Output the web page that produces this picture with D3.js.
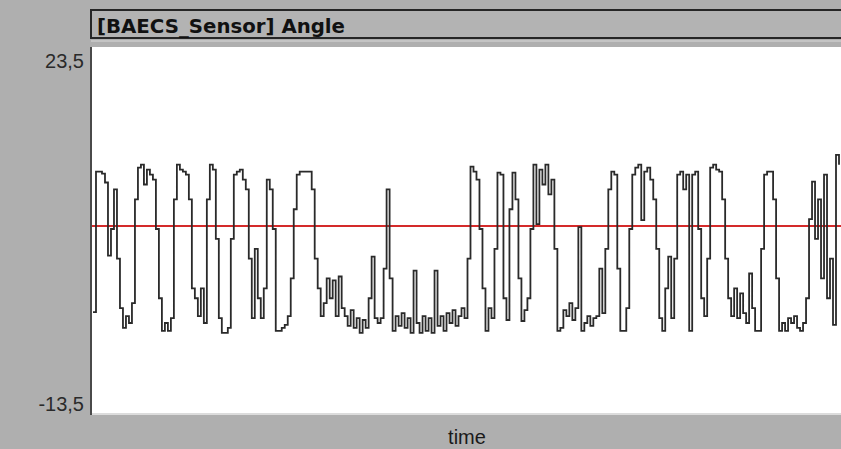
<!DOCTYPE html>
<html>
<head>
    <meta charset="utf-8">
    <title>[BAECS_Sensor] Angle</title>
    <script src="https://d3js.org/d3.v7.min.js"></script>
    <style>
        body {
            margin: 0;
            background-color: #afafaf;
        }
    </style>
</head>
<body>
    <script>
        // chart values
        const title = "[BAECS_Sensor] Angle";
        const xLabel = "time";
        const yTicks = [23.5, -13.5];
        const threshold = 5.4;
        const angle = [
            -3.3, 10.9, 10.9, 10.7, 9.8, 2.4, 5.1, 9.1, 2.1, -2.9,
            -4.9, -3.7, -4.4, -2.4, 8.1, 11.3, 11.6, 9.6, 11.1, 10.6,
            10.1, 5.1, -1.9, -5.2, -4.4, -5.2, -3.9, 8.1, 11.6, 11.1,
            10.9, 10.6, 8.1, -0.9, -1.9, -3.7, -0.9, -4.4, 8.1, 11.6,
            11.1, 4.1, -3.9, -5.4, -5.4, -4.9, 4.1, 10.6, 10.9, 11.1,
            10.1, 9.1, 2.1, -3.9, 3.1, -1.9, -3.9, -0.9, 10.1, 9.1,
            5.1, -5.2, -5.2, -4.9, -4.6, -3.7, 0.1, 7.1, 10.6, 10.9,
            10.9, 10.9, 10.9, 9.1, 2.1, -0.9, -3.7, -2.4, 0.1, -1.9,
            -0.1, -3.7, 0.3, -2.9, -3.7, -4.7, -3.1, -4.9, -3.9, -5.4,
            -4.1, -4.9, -1.9, 2.3, -3.9, -4.4, -3.9, 1.1, 9.1, 0.1,
            -5.2, -3.7, -4.7, -3.4, -4.9, -3.9, -5.4, 0.9, -4.4, -5.4,
            -3.7, -5.2, -3.9, -5.4, 0.9, -4.7, -3.7, -5.2, -3.4, -4.4,
            -3.1, -4.7, -3.7, -2.9, -3.9, 2.1, 11.4, 10.9, 10.1, 5.1,
            -0.9, -5.2, -2.9, -3.9, 3.1, 10.8, 10.6, -1.9, -4.1, 7.1,
            10.8, 8.1, 0.1, -4.2, -3.1, -1.9, 5.1, 11.6, 5.6, 11.1,
            9.6, 11.6, 8.6, 10.1, 3.1, -5.2, -4.9, -3.1, -3.7, -2.4,
            -4.1, -2.9, 5.3, -5.2, -4.4, -3.7, -4.7, -3.9, -3.7, 1.1,
            -3.4, 3.1, 9.1, 10.9, 10.6, 1.1, -5.2, -5.2, -2.9, 5.1,
            10.6, 11.3, 11.6, 6.0, 10.9, 11.3, 10.1, 8.1, 3.1, -3.9,
            -5.2, -0.9, 2.3, -3.9, 2.1, 10.6, 10.9, 9.1, 10.6, -5.2,
            10.6, 10.9, 5.1, -1.9, -3.7, 2.1, 11.3, 11.6, 11.1, 10.9,
            8.1, 2.1, -1.9, -3.7, -0.9, -3.9, -1.4, -3.4, -4.4, 0.6,
            -2.9, -5.2, -5.2, 3.1, 10.6, 10.9, 10.9, 8.1, 0.1, -5.2,
            -4.4, -5.2, -3.9, -4.4, -3.7, -4.9, -5.2, -4.4, -1.9, 6.1,
            9.9, 4.1, 8.1, 0.1, 10.6, -1.9, 2.1, -4.6, 12.6, 11.6
        ];

        const width = 841, height = 449;
        const plot = {left: 92, right: 841, top: 47, bottom: 413};

        const svg = d3.select("body").append("svg")
            .attr("width", width)
            .attr("height", height)
            .style("display", "block");

        svg.append("rect")
            .attr("width", width)
            .attr("height", height)
            .attr("fill", "#afafaf");

        // title bar
        svg.append("rect")
            .attr("x", 91).attr("y", 10)
            .attr("width", width).attr("height", 28)
            .attr("fill", "#b3b3b3")
            .attr("stroke", "#262626")
            .attr("stroke-width", 2);
        svg.append("line")
            .attr("x1", 91).attr("x2", width)
            .attr("y1", 41).attr("y2", 41)
            .attr("stroke", "#c4c4c4").attr("stroke-width", 2);

        svg.append("text")
            .attr("x", 97)
            .attr("y", 33)
            .attr("textLength", 248)
            .attr("lengthAdjust", "spacingAndGlyphs")
            .style("font-family", "DejaVu Sans, Verdana, sans-serif")
            .style("font-weight", "bold")
            .style("font-size", "20px")
            .style("fill", "#111")
            .text(title);

        // plot area
        svg.append("rect")
            .attr("x", plot.left).attr("y", plot.top)
            .attr("width", plot.right - plot.left)
            .attr("height", plot.bottom - plot.top)
            .attr("fill", "#fff");
        svg.append("line")
            .attr("x1", plot.left).attr("x2", plot.right)
            .attr("y1", plot.bottom + 1).attr("y2", plot.bottom + 1)
            .attr("stroke", "#dcdcdc").attr("stroke-width", 2);
        svg.append("line")
            .attr("x1", plot.left - 1).attr("x2", plot.left - 1)
            .attr("y1", plot.top).attr("y2", plot.bottom + 2)
            .attr("stroke", "#4a4a4a").attr("stroke-width", 2);

        const x = d3.scaleLinear().domain([0, angle.length - 1]).range([plot.left + 1, plot.right - 2]);
        const y = d3.scaleLinear().domain([yTicks[1], yTicks[0]]).range([plot.bottom, plot.top]);

        // comma decimal labels, plain hyphen minus
        const locale = d3.formatLocale({decimal: ",", thousands: ".", grouping: [3], currency: ["", ""], minus: "-"});
        const yAxis = svg.append("g")
            .attr("transform", "translate(" + (plot.left - 8) + ",0)")
            .call(d3.axisLeft(y).tickValues(yTicks).tickSize(0).tickPadding(0).tickFormat(locale.format(".1f")));
        yAxis.select(".domain").remove();
        yAxis.selectAll("text")
            .style("font-family", "Liberation Sans, Arial, sans-serif")
            .style("font-size", "20px")
            .style("fill", "#2a2a2a")
            .attr("dy", d => d === yTicks[0] ? "1.0em" : "-0.15em");

        // x axis label
        svg.append("text")
            .attr("x", 467)
            .attr("y", 444)
            .style("text-anchor", "middle")
            .style("font-family", "Liberation Sans, Arial, sans-serif")
            .style("font-size", "20px")
            .style("fill", "#1a1a1a")
            .text(xLabel);

        // threshold line
        svg.append("line")
            .attr("x1", plot.left).attr("x2", plot.right)
            .attr("y1", y(threshold)).attr("y2", y(threshold))
            .attr("stroke", "#d42a2a")
            .attr("stroke-width", 2);

        // signal, stair-stepped like the sampled trace
        const line = d3.line()
            .x((d, i) => x(i))
            .y(d => y(d))
            .curve(d3.curveStepAfter);

        svg.append("path")
            .datum(angle)
            .attr("d", line)
            .attr("fill", "none")
            .attr("stroke", "#2a2a2a")
            .attr("stroke-width", 1.8);
    </script>
</body>
</html>
